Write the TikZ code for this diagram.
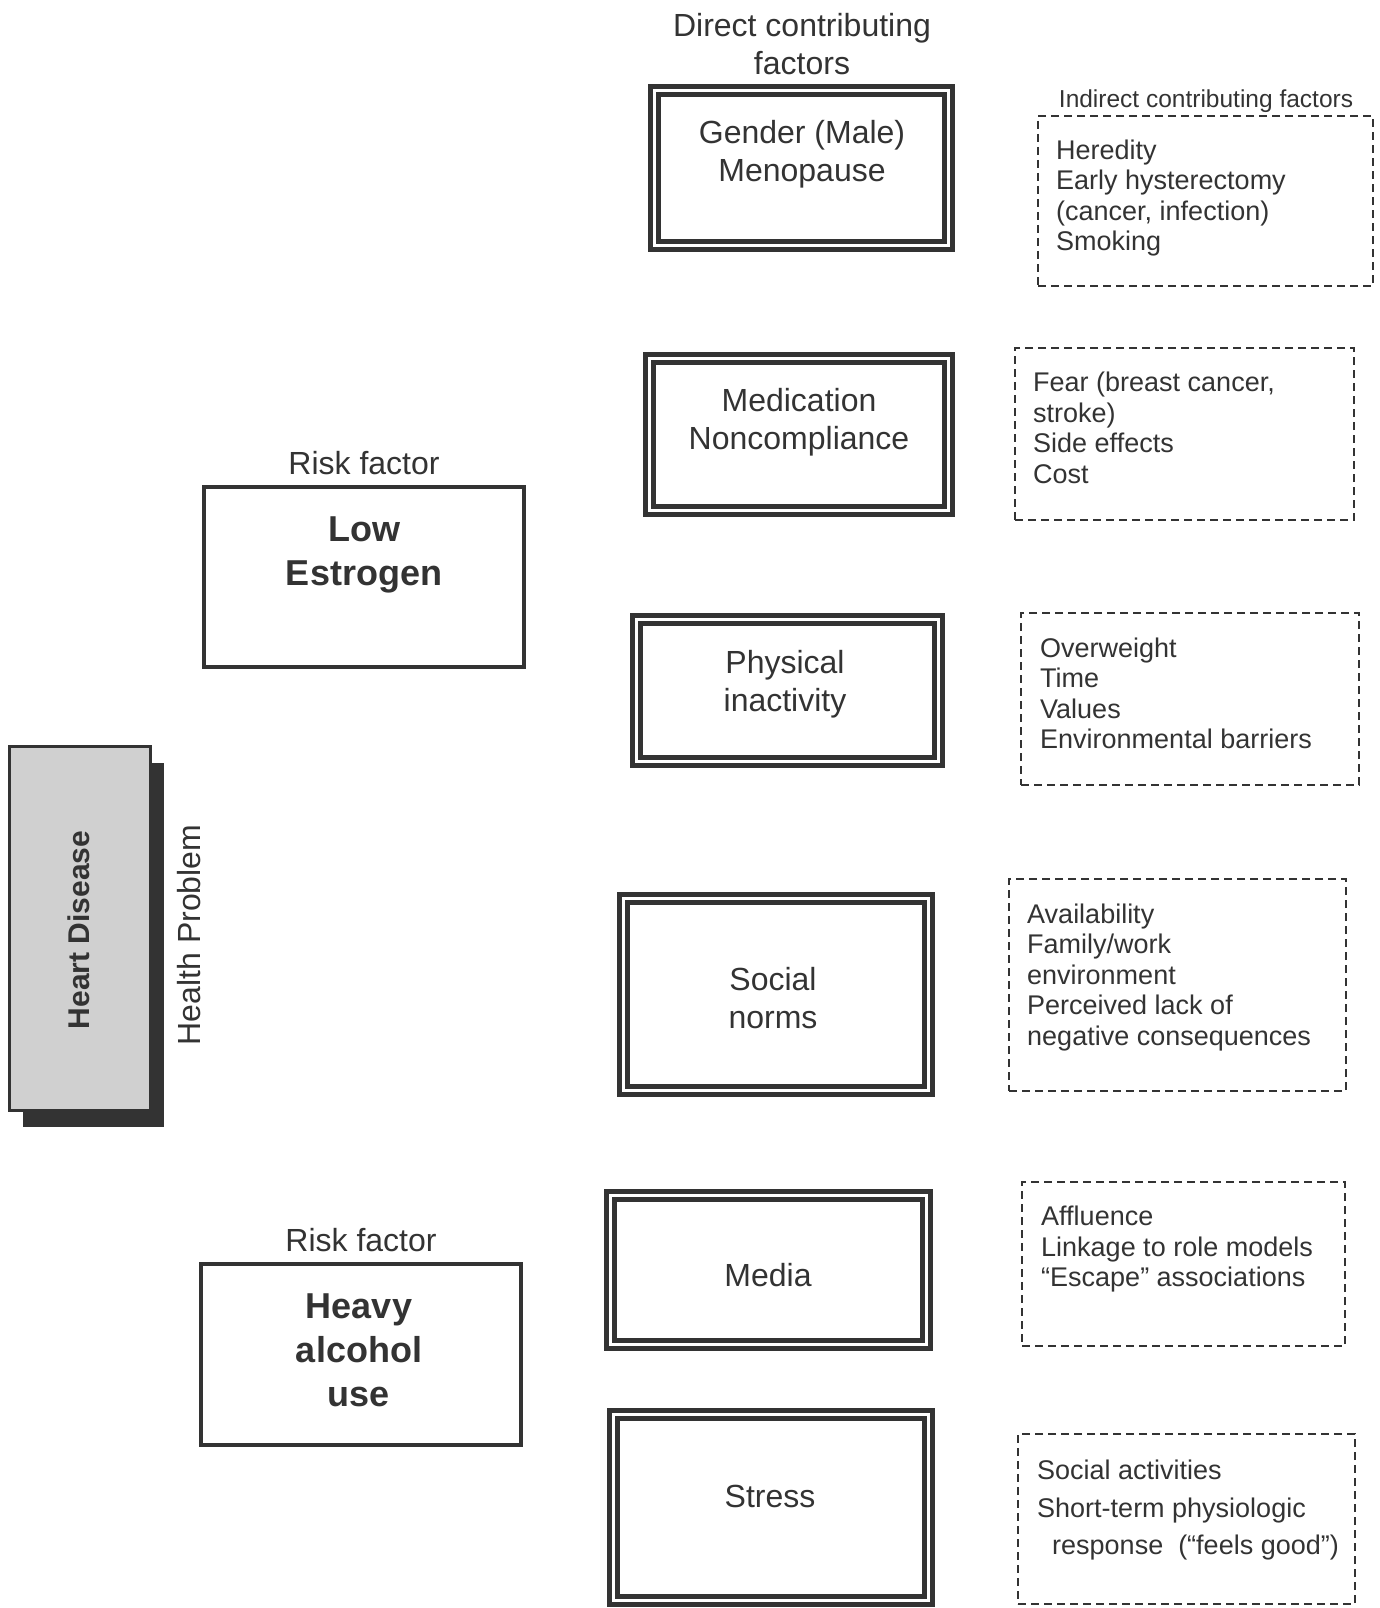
\documentclass[tikz,border=0pt]{standalone}
\usepackage{fontspec}
\setmainfont{Liberation Sans}
\usetikzlibrary{shadows}
\definecolor{ink}{HTML}{333333}
\definecolor{hdfill}{HTML}{D0D0D0}

\tikzset{
  factorbox/.style={draw=ink, line width=5pt, double=white, double distance=3pt, rectangle, inner sep=0pt},
  riskbox/.style={draw=ink, line width=4pt, rectangle, inner sep=0pt},
  indirectbox/.style={draw=ink, line width=2.5pt, dash pattern=on 8pt off 5pt, rectangle, inner sep=0pt},
  maintext/.style={text=ink, font=\fontsize{32}{38}\selectfont, align=center, inner sep=0pt},
  risktext/.style={text=ink, font=\fontsize{36}{44}\selectfont\bfseries, align=center, inner sep=0pt},
  listtext/.style={text=ink, font=\fontsize{27}{30.5}\selectfont, align=left, anchor=west, inner sep=0pt}
}

\begin{document}
\begin{tikzpicture}[x=1pt, y=-1pt]
    \useasboundingbox (0,0) rectangle (1380,1608);

    % Health problem
    \node[draw=ink, line width=3pt, fill=hdfill, minimum width=141pt, minimum height=364pt,
          drop shadow={shadow xshift=13pt, shadow yshift=-16pt, fill=ink, opacity=1}] (heart) at (80,928.5) {};
    \node[rotate=90, text=ink, inner sep=0pt, font=\fontsize{30}{36}\selectfont\bfseries] (heartlbl) at (79,930) {Heart Disease};
    \node[rotate=90, maintext] (problem) at (189,935) {Health Problem};

    % Risk factors
    \node[maintext] (risk1lbl) at (364,463) {Risk factor};
    \node[riskbox, minimum width=320pt, minimum height=180pt] (estrogen) at (364,577) {};
    \node[risktext] (estrogentxt) at (364,555) {Low\\Estrogen};

    \node[maintext] (risk2lbl) at (361,1240) {Risk factor};
    \node[riskbox, minimum width=320pt, minimum height=181pt] (alcohol) at (361,1354.5) {};
    \node[risktext] (alcoholtxt) at (359,1350) {Heavy\\alcohol\\use};

    % Direct contributing factors
    \node[maintext] (directlbl) at (802,44) {Direct contributing\\factors};
    \node[factorbox, minimum width=294pt, minimum height=155pt] (gender) at (801.5,168) {};
    \node[maintext] (gendertxt) at (802,154) {Gender (Male)\\Menopause};
    \node[factorbox, minimum width=299pt, minimum height=152pt] (medication) at (799,434.5) {};
    \node[maintext] (medicationtxt) at (799,422) {Medication\\Noncompliance};
    \node[factorbox, minimum width=302pt, minimum height=142pt] (physical) at (787.5,690.5) {};
    \node[maintext] (physicaltxt) at (785,684) {Physical\\inactivity};
    \node[factorbox, minimum width=305pt, minimum height=192pt] (social) at (776,994.5) {};
    \node[maintext] (socialtxt) at (773,998) {Social\\norms};
    \node[factorbox, minimum width=316pt, minimum height=149pt] (media) at (768.5,1270) {};
    \node[maintext] (mediatxt) at (768,1275) {Media};
    \node[factorbox, minimum width=315pt, minimum height=186pt] (stress) at (771,1507.5) {};
    \node[maintext] (stresstxt) at (770,1496) {Stress};

    % Indirect contributing factors
    \node[text=ink, inner sep=0pt, font=\fontsize{24.5}{29}\selectfont] (indirectlbl) at (1206,101) {Indirect contributing factors};
    \node[indirectbox, minimum width=335pt, minimum height=170pt] (ind1) at (1205.5,201) {};
    \node[listtext] (ind1txt) at (1056,198) {Heredity\\Early hysterectomy\\(cancer, infection)\\Smoking};
    \node[indirectbox, minimum width=339pt, minimum height=172pt] (ind2) at (1184.5,434) {};
    \node[listtext] (ind2txt) at (1033,428) {Fear (breast cancer,\\stroke)\\Side effects\\Cost};
    \node[indirectbox, minimum width=338pt, minimum height=172pt] (ind3) at (1190,699) {};
    \node[listtext] (ind3txt) at (1040,693.5) {Overweight\\Time\\Values\\Environmental barriers};
    \node[indirectbox, minimum width=337pt, minimum height=212pt] (ind4) at (1177.5,985) {};
    \node[listtext] (ind4txt) at (1027,977.5) {Availability\\Family/work\\environment\\Perceived lack of\\negative consequences};
    \node[indirectbox, minimum width=323pt, minimum height=164pt] (ind5) at (1183.5,1264) {};
    \node[listtext] (ind5txt) at (1041,1249.5) {Affluence\\Linkage to role models\\“Escape” associations};
    \node[indirectbox, minimum width=337pt, minimum height=170pt] (ind6) at (1186.5,1519) {};
    \node[listtext, font=\fontsize{27}{37.5}\selectfont] (ind6txt) at (1037,1510.5) {Social activities\\Short-term physiologic\\\hspace*{15pt}response\ \ (“feels good”)};
\end{tikzpicture}
\end{document}
